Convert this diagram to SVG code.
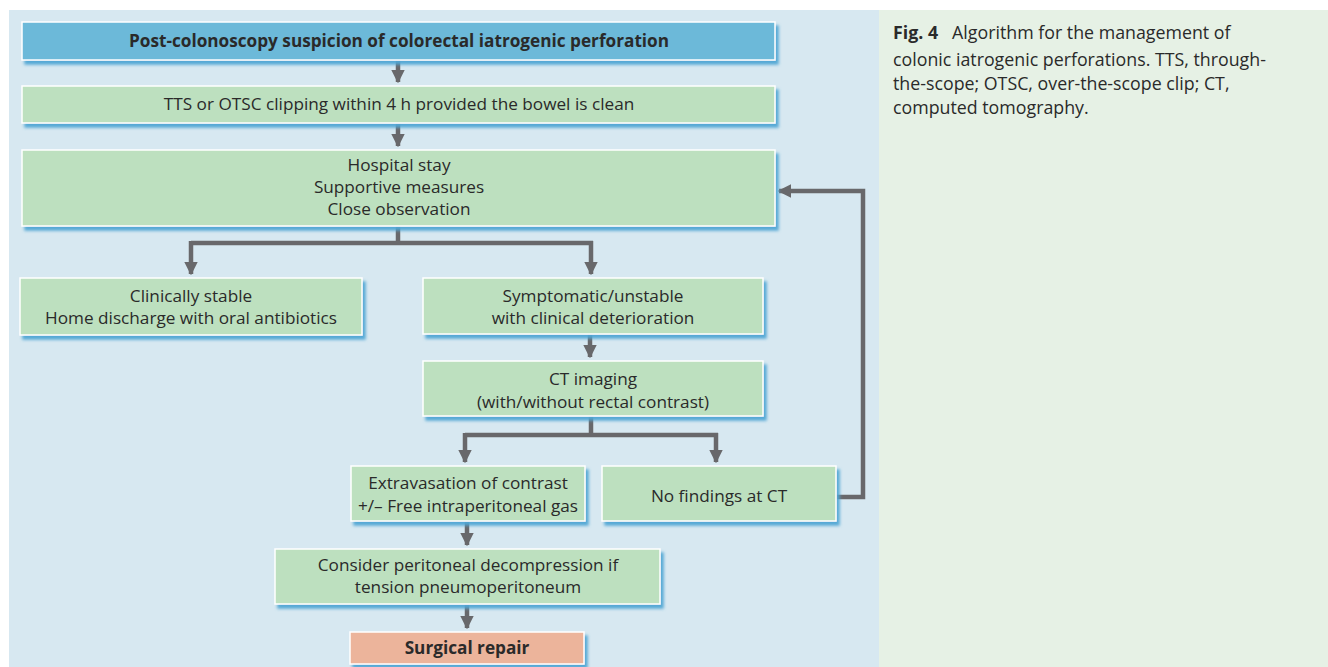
<svg xmlns="http://www.w3.org/2000/svg" width="1328" height="667" viewBox="0 0 1328 667">
<defs>
<filter id="sh" x="-5%" y="-20%" width="115%" height="150%">
<feDropShadow dx="3" dy="4" stdDeviation="1.6" flood-color="#4fa6d4" flood-opacity="0.95"/>
</filter>
<marker id="ah" viewBox="0 0 10 10" refX="9" refY="5" markerWidth="3" markerHeight="3" orient="auto" markerUnits="strokeWidth">
<path d="M0,0 L10,5 L0,10 Z" fill="#68686b"/>
</marker>
</defs>
<style>
.box{stroke:#ffffff;stroke-width:1.5;filter:url(#sh)}
.g{fill:#bde0bf}
.b{fill:#6cb9d9}
.s{fill:#ecb49b}
text{font-family:"Open Sans","Noto Sans","DejaVu Sans",sans-serif;font-size:17.2px;fill:#2a2a2a;text-anchor:middle}
.bold{font-weight:bold}
.cap{text-anchor:start;font-size:17.8px}
.con{fill:none;stroke:#68686b;stroke-width:4.5}
</style>
<rect x="0" y="0" width="1328" height="667" fill="#ffffff"/>
<rect x="9" y="10" width="870" height="657" fill="#d7e8f1"/>
<rect x="879" y="10" width="449" height="657" fill="#e6f1e5"/>

<g id="caption">
<text class="cap" x="893" y="39"><tspan class="bold">Fig. 4</tspan><tspan dx="14">Algorithm for the management of</tspan></text>
<text class="cap" x="893" y="66">colonic iatrogenic perforations. TTS, through-</text>
<text class="cap" x="893" y="90">the-scope; OTSC, over-the-scope clip; CT,</text>
<text class="cap" x="893" y="114">computed tomography.</text>
</g>

<g id="connectors">
<path class="con" d="M398,60 V82" marker-end="url(#ah)"/>
<path class="con" d="M398,123 V146" marker-end="url(#ah)"/>
<path class="con" d="M398,226 V243"/>
<path class="con" d="M191,243 H593"/>
<path class="con" d="M191,241 V274" marker-end="url(#ah)"/>
<path class="con" d="M591,241 V274" marker-end="url(#ah)"/>
<path class="con" d="M590,334 V357" marker-end="url(#ah)"/>
<path class="con" d="M591,416 V435"/>
<path class="con" d="M465,435 H718"/>
<path class="con" d="M465,433 V462" marker-end="url(#ah)"/>
<path class="con" d="M716,433 V462" marker-end="url(#ah)"/>
<path class="con" d="M836,497 H863 V191 H779" marker-end="url(#ah)"/>
<path class="con" d="M467,521 V545" marker-end="url(#ah)"/>
<path class="con" d="M467,604 V628" marker-end="url(#ah)"/>
</g>

<g id="n1"><rect class="box b" x="22" y="22" width="753" height="38"/><text class="bold" x="399" y="47">Post-colonoscopy suspicion of colorectal iatrogenic perforation</text></g>
<g id="n2"><rect class="box g" x="22" y="86" width="753" height="37"/><text x="399" y="110">TTS or OTSC clipping within 4 h provided the bowel is clean</text></g>
<g id="n3"><rect class="box g" x="22" y="150" width="753" height="76"/><text x="399" y="171">Hospital stay</text><text x="399" y="193">Supportive measures</text><text x="399" y="215">Close observation</text></g>
<g id="n4"><rect class="box g" x="20" y="278" width="342" height="57"/><text x="191" y="302">Clinically stable</text><text x="191" y="324">Home discharge with oral antibiotics</text></g>
<g id="n5"><rect class="box g" x="423" y="278" width="340" height="56"/><text x="593" y="302">Symptomatic/unstable</text><text x="593" y="324">with clinical deterioration</text></g>
<g id="n6"><rect class="box g" x="423" y="361" width="340" height="55"/><text x="593" y="385">CT imaging</text><text x="593" y="408">(with/without rectal contrast)</text></g>
<g id="n7"><rect class="box g" x="351" y="466" width="234" height="55"/><text x="468" y="489">Extravasation of contrast</text><text x="468" y="512">+/– Free intraperitoneal gas</text></g>
<g id="n8"><rect class="box g" x="602" y="466" width="234" height="55"/><text x="719" y="502">No findings at CT</text></g>
<g id="n9"><rect class="box g" x="275" y="549" width="385" height="55"/><text x="468" y="571">Consider peritoneal decompression if</text><text x="468" y="593">tension pneumoperitoneum</text></g>
<g id="n10"><rect class="box s" x="350" y="632" width="234" height="32"/><text class="bold" x="467" y="654">Surgical repair</text></g>
</svg>
